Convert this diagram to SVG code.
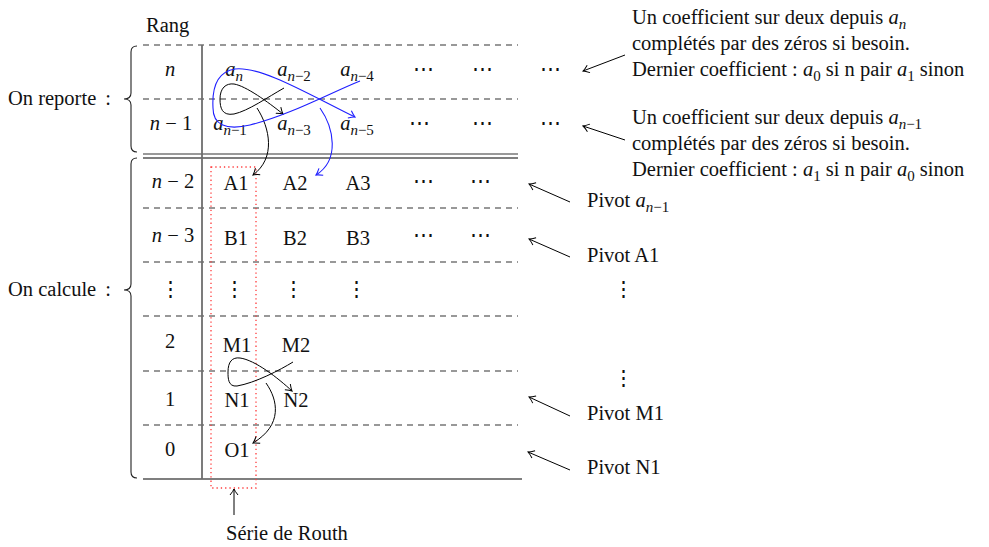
<svg xmlns="http://www.w3.org/2000/svg" width="989" height="547" viewBox="0 0 989 547">
  <style>
    text { font-family: "Liberation Serif", "DejaVu Serif", serif; font-size: 20.5px; fill: #111; }
    .c { text-anchor: middle; }
    .i { font-style: italic; }
    .sub { font-size: 15px; }
    .dash { stroke: #333; stroke-width: 1.1; stroke-dasharray: 6 5; fill: none; }
    .rule { stroke: #000; stroke-width: 1.2; fill: none; }
    .vrule { stroke: #6e6e6e; stroke-width: 1.8; fill: none; }
    .brace { stroke: #222; stroke-width: 1.1; fill: none; }
    .arr { stroke: #000; stroke-width: 1; fill: none; marker-end: url(#tip); }
    .arrb { stroke: #1f1fff; stroke-width: 1.1; fill: none; marker-end: url(#tipb); }
    .routh { stroke: #ff3b3b; stroke-width: 1.3; stroke-dasharray: 1.3 3; fill: none; }
  </style>
  <defs>
    <marker id="tip" viewBox="-7 -5 8 10" refX="0" refY="0" markerWidth="8" markerHeight="10" orient="auto" markerUnits="userSpaceOnUse">
      <path d="M-6,-4 Q-2.2,-0.9 0,0 Q-2.2,0.9 -6,4" fill="none" stroke="#000" stroke-width="1"/>
    </marker>
    <marker id="tipb" viewBox="-7 -5 8 10" refX="0" refY="0" markerWidth="8" markerHeight="10" orient="auto" markerUnits="userSpaceOnUse">
      <path d="M-6,-4 Q-2.2,-0.9 0,0 Q-2.2,0.9 -6,4" fill="none" stroke="#1f1fff" stroke-width="1.1"/>
    </marker>
  </defs>

  <!-- table rules -->
  <g id="grid">
    <line class="dash" x1="143" y1="45" x2="518" y2="45"/>
    <line class="dash" x1="143" y1="99" x2="518" y2="99"/>
    <line x1="143" y1="154" x2="518" y2="154" stroke="#777" stroke-width="1.6"/>
    <line class="rule" x1="143" y1="158" x2="518" y2="158"/>
    <line class="dash" x1="143" y1="208" x2="518" y2="208"/>
    <line class="dash" x1="143" y1="262" x2="518" y2="262"/>
    <line class="dash" x1="143" y1="316" x2="518" y2="316"/>
    <line class="dash" x1="143" y1="371" x2="518" y2="371"/>
    <line class="dash" x1="143" y1="425" x2="518" y2="425"/>
    <line class="rule" x1="143" y1="479" x2="522" y2="479"/>
    <line class="vrule" x1="202" y1="45" x2="202" y2="479"/>
  </g>

  <!-- braces and their labels -->
  <g id="reporte">
    <path class="brace" d="M137,46 Q131,46 131,52 L131,93 Q131,99 124,99 Q131,99 131,105 L131,146 Q131,152 137,152"/>
    <text x="8" y="105">On reporte <tspan dx="4">:</tspan></text>
  </g>
  <g id="calcule">
    <path class="brace" d="M137,158 Q131,158 131,164 L131,284 Q131,290 124,290 Q131,290 131,296 L131,472 Q131,478 137,478"/>
    <text x="8" y="296">On calcule <tspan dx="4">:</tspan></text>
  </g>

  <g id="rang"><text x="146" y="32">Rang</text></g>

  <!-- row n -->
  <g id="row-n">
    <text class="c i" x="170" y="76">n</text>
    <text class="c" x="234" y="76"><tspan class="i">a</tspan><tspan class="sub i" dy="5">n</tspan></text>
    <text class="c" x="294" y="76"><tspan class="i">a</tspan><tspan class="sub" dy="5"><tspan class="i">n</tspan>−2</tspan></text>
    <text class="c" x="357" y="76"><tspan class="i">a</tspan><tspan class="sub" dy="5"><tspan class="i">n</tspan>−4</tspan></text>
    <text class="c" x="423" y="76">⋯</text>
    <text class="c" x="482" y="76">⋯</text>
    <text class="c" x="550" y="76">⋯</text>
  </g>

  <!-- row n-1 -->
  <g id="row-n1">
    <text class="c" x="171" y="130"><tspan class="i">n</tspan> − 1</text>
    <text class="c" x="230" y="130"><tspan class="i">a</tspan><tspan class="sub" dy="5"><tspan class="i">n</tspan>−1</tspan></text>
    <text class="c" x="294" y="130"><tspan class="i">a</tspan><tspan class="sub" dy="5"><tspan class="i">n</tspan>−3</tspan></text>
    <text class="c" x="357" y="130"><tspan class="i">a</tspan><tspan class="sub" dy="5"><tspan class="i">n</tspan>−5</tspan></text>
    <text class="c" x="419" y="130">⋯</text>
    <text class="c" x="482" y="130">⋯</text>
    <text class="c" x="550" y="130">⋯</text>
  </g>

  <!-- row n-2 -->
  <g id="row-n2">
    <text class="c" x="173" y="188"><tspan class="i">n</tspan> − 2</text>
    <text class="c" x="236" y="190">A1</text>
    <text class="c" x="295" y="190">A2</text>
    <text class="c" x="358" y="190">A3</text>
    <text class="c" x="423" y="188">⋯</text>
    <text class="c" x="480" y="188">⋯</text>
  </g>

  <!-- row n-3 -->
  <g id="row-n3">
    <text class="c" x="173" y="242"><tspan class="i">n</tspan> − 3</text>
    <text class="c" x="236" y="245">B1</text>
    <text class="c" x="295" y="245">B2</text>
    <text class="c" x="358" y="245">B3</text>
    <text class="c" x="423" y="242">⋯</text>
    <text class="c" x="480" y="242">⋯</text>
  </g>

  <!-- row of ellipses -->
  <g id="row-dots">
    <text class="c" x="170" y="296">⋮</text>
    <text class="c" x="234" y="296">⋮</text>
    <text class="c" x="293" y="296">⋮</text>
    <text class="c" x="356" y="296">⋮</text>
  </g>

  <g id="row-2">
    <text class="c" x="170" y="348">2</text>
    <text class="c" x="237" y="352">M1</text>
    <text class="c" x="296" y="352">M2</text>
  </g>
  <g id="row-1">
    <text class="c" x="170" y="406">1</text>
    <text class="c" x="237" y="407">N1</text>
    <text class="c" x="296" y="407">N2</text>
  </g>
  <g id="row-0">
    <text class="c" x="170" y="456">0</text>
    <text class="c" x="237" y="457">O1</text>
  </g>

  <!-- first column frame -->
  <g id="serie-routh">
    <rect class="routh" x="211" y="167" width="45" height="321"/>
    <text x="226" y="540">Série de Routh</text>
  </g>

  <!-- annotations -->
  <g id="note-an">
    <text x="632" y="24">Un coefficient sur deux depuis <tspan class="i">a</tspan><tspan class="sub i" dy="5">n</tspan></text>
    <text x="632" y="50">complétés par des zéros si besoin.</text>
    <text x="632" y="76">Dernier coefficient : <tspan class="i">a</tspan><tspan class="sub" dy="5">0</tspan><tspan dy="-5"> si n pair </tspan><tspan class="i">a</tspan><tspan class="sub" dy="5">1</tspan><tspan dy="-5"> sinon</tspan></text>
  </g>
  <g id="note-an1">
    <text x="632" y="124">Un coefficient sur deux depuis <tspan class="i">a</tspan><tspan class="sub" dy="5"><tspan class="i">n</tspan>−1</tspan></text>
    <text x="632" y="150">complétés par des zéros si besoin.</text>
    <text x="632" y="176">Dernier coefficient : <tspan class="i">a</tspan><tspan class="sub" dy="5">1</tspan><tspan dy="-5"> si n pair </tspan><tspan class="i">a</tspan><tspan class="sub" dy="5">0</tspan><tspan dy="-5"> sinon</tspan></text>
  </g>
  <g id="pivot-an1"><text x="587" y="207">Pivot <tspan class="i">a</tspan><tspan class="sub" dy="5"><tspan class="i">n</tspan>−1</tspan></text></g>
  <g id="pivot-a1"><text x="587" y="262">Pivot A1</text></g>
  <g id="pivot-dots">
    <text class="c" x="623" y="296">⋮</text>
    <text class="c" x="623" y="385">⋮</text>
  </g>
  <g id="pivot-m1"><text x="587" y="420">Pivot M1</text></g>
  <g id="pivot-n1"><text x="587" y="474">Pivot N1</text></g>

  <!-- connectors -->
  <g id="connectors">
    <line class="arr" x1="625" y1="55" x2="583" y2="71"/>
    <line class="arr" x1="625" y1="140" x2="583" y2="126"/>
    <line class="arr" x1="570" y1="202" x2="529" y2="184"/>
    <line class="arr" x1="570" y1="257" x2="529" y2="239"/>
    <line class="arr" x1="570" y1="416" x2="529" y2="397"/>
    <line class="arr" x1="570" y1="470" x2="528" y2="452"/>
    <line class="arr" x1="234" y1="515" x2="234" y2="489"/>

    <!-- cross products on the two copied rows -->
    <path class="arr" d="M284,88 C268,97 248,111 234,114 C222,116 220,108 220,99 C220,88 226,83 234,84 C246,86 268,102 283,114"/>
    <path class="arr" d="M257,108 C270,128 276,158 253,175"/>
    <path class="arrb" d="M360,81 C330,93 290,115 250,125 C225,131 213,124 213,108 C212,90 216,72 235,69 C262,66 310,95 355,117"/>
    <path class="arrb" d="M320,108 C334,128 340,160 316,175"/>

    <!-- last cross product -->
    <path class="arr" d="M293,362 C280,370 255,383 237,386 C228,387 228,378 228,372 C228,362 232,357 240,358 C255,360 278,378 292,391"/>
    <path class="arr" d="M266,383 C278,400 283,425 253,443"/>
  </g>
</svg>
